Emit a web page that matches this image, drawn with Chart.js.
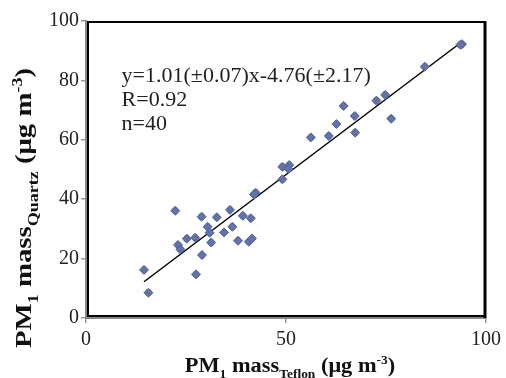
<!DOCTYPE html>
<html>
<head>
<meta charset="utf-8">
<script src="https://cdn.jsdelivr.net/npm/chart.js@4"></script>
<style>
  html, body { margin: 0; padding: 0; background: #fff; }
</style>
</head>
<body>
<canvas id="grafico" width="506" height="378"></canvas>
<script>
// datos
const teflon = [94.0, 84.7, 74.8, 72.6, 64.4, 67.2, 62.6, 76.3, 67.3, 60.7, 56.2, 49.1, 50.8, 50.6, 49.1, 42.4, 42.0, 22.3, 36.0, 28.9,
                32.7, 39.2, 41.2, 30.4, 36.6, 30.9, 34.5, 25.2, 27.3, 23.0, 23.6, 31.3, 38.0, 40.7, 41.5, 29.0, 14.5, 15.6, 27.5, 93.6];
const quartz = [92.2, 84.6, 75.1, 73.2, 71.4, 68.0, 65.3, 67.1, 62.4, 61.3, 60.8, 50.9, 51.5, 50.2, 46.7, 42.2, 41.6, 36.1, 36.4, 34.1,
                33.9, 34.4, 33.6, 30.7, 30.7, 28.7, 28.8, 26.7, 27.0, 24.6, 23.1, 25.4, 26.0, 25.7, 26.8, 21.2, 16.2, 8.5, 14.7, 92.0];
const fitX = [14.5, 93.5];
const fitY = [12.2, 92.5];
const errX = 0.6;   // barra de error aprox. (µg m-3)
const errY = 0.9;
const xTicks = [0, 50, 100];
const yTicks = [0, 20, 40, 60, 80, 100];
const notas = ['y=1.01(\u00b10.07)x-4.76(\u00b12.17)', 'R=0.92', 'n=40'];

const serif = '"Liberation Serif", "Times New Roman", serif';

// dibuja texto con subíndices / superíndices
function drawRich(ctx, parts, size) {
  let total = 0;
  parts.forEach(p => {
    ctx.font = 'bold ' + (p.t ? Math.round(size * 0.62) : size) + 'px ' + serif;
    p.w = ctx.measureText(p.s).width;
    total += p.w;
  });
  let x = -total / 2;
  parts.forEach(p => {
    ctx.font = 'bold ' + (p.t ? Math.round(size * 0.62) : size) + 'px ' + serif;
    let dy = 0;
    if (p.t === 'sub') dy = size * 0.28;
    if (p.t === 'sup') dy = -size * 0.38;
    ctx.fillText(p.s, x, dy);
    x += p.w;
  });
}

const extras = {
  id: 'extras',
  beforeDatasetsDraw(chart) {
    const { ctx, scales: { x, y } } = chart;
    ctx.save();
    ctx.strokeStyle = '#111';
    ctx.lineWidth = 1;
    for (let i = 0; i < teflon.length; i++) {
      const px = x.getPixelForValue(teflon[i]);
      const py = y.getPixelForValue(quartz[i]);
      const x0 = x.getPixelForValue(teflon[i] - errX), x1 = x.getPixelForValue(teflon[i] + errX);
      const y0 = y.getPixelForValue(quartz[i] - errY), y1 = y.getPixelForValue(quartz[i] + errY);
      ctx.beginPath();
      ctx.moveTo(x0, py); ctx.lineTo(x1, py);
      ctx.moveTo(x0, py - 2); ctx.lineTo(x0, py + 2);
      ctx.moveTo(x1, py - 2); ctx.lineTo(x1, py + 2);
      ctx.moveTo(px, y0); ctx.lineTo(px, y1);
      ctx.moveTo(px - 2, y0); ctx.lineTo(px + 2, y0);
      ctx.moveTo(px - 2, y1); ctx.lineTo(px + 2, y1);
      ctx.stroke();
    }
    ctx.restore();
  },
  afterDraw(chart) {
    const { ctx, chartArea: a, scales: { x, y } } = chart;
    ctx.save();
    // marco negro
    ctx.strokeStyle = '#000';
    ctx.lineWidth = 2;
    ctx.strokeRect(a.left + 2, a.top + 1, a.right - a.left - 3, a.bottom - a.top - 3);
    ctx.lineWidth = 3;
    ctx.beginPath();
    ctx.moveTo(a.right - 1, a.top); ctx.lineTo(a.right - 1, a.bottom);
    ctx.stroke();

    // ecuación
    ctx.fillStyle = '#222';
    ctx.font = '22px ' + serif;
    ctx.textBaseline = 'alphabetic';
    const tx = x.getPixelForValue(8.9);
    const ty = y.getPixelForValue(79.6);
    notas.forEach((s, i) => ctx.fillText(s, tx, ty + i * 24.3));

    // títulos de ejes
    ctx.fillStyle = '#111';
    ctx.save();
    ctx.translate(290, 372);
    ctx.scale(1.12, 1);
    drawRich(ctx, [
      { s: 'PM' }, { s: '1', t: 'sub' }, { s: ' mass' }, { s: 'Teflon', t: 'sub' },
      { s: ' (\u03bcg m' }, { s: '-3', t: 'sup' }, { s: ')' }
    ], 20);
    ctx.restore();

    ctx.save();
    ctx.translate(31, 208);
    ctx.rotate(-Math.PI / 2);
    ctx.scale(1.2, 1);
    drawRich(ctx, [
      { s: 'PM' }, { s: '1', t: 'sub' }, { s: ' mass' }, { s: 'Quartz', t: 'sub' },
      { s: ' (\u03bcg m' }, { s: '-3', t: 'sup' }, { s: ')' }
    ], 24);
    ctx.restore();
    ctx.restore();
  }
};

const ctx = document.getElementById('grafico').getContext('2d');
new Chart(ctx, {
  type: 'scatter',
  data: {
    datasets: [{
      label: 'PM1',
      data: teflon.map((v, i) => ({ x: v, y: quartz[i] })),
      pointStyle: 'rectRot',
      pointRadius: 4.5,
      backgroundColor: '#6373a8',
      borderColor: '#55659c',
      borderWidth: 1
    }, {
      type: 'line',
      label: 'ajuste',
      data: fitX.map((v, i) => ({ x: v, y: fitY[i] })),
      borderColor: '#000',
      borderWidth: 1.5,
      pointRadius: 0,
      fill: false
    }]
  },
  options: {
    responsive: false,
    animation: false,
    devicePixelRatio: 1,
    layout: { padding: { left: 0, top: 21, right: 17, bottom: 0 } },
    plugins: { legend: { display: false }, tooltip: { enabled: false } },
    scales: {
      x: {
        type: 'linear', min: 0, max: 100,
        afterBuildTicks: s => { s.ticks = xTicks.map(v => ({ value: v })); },
        afterFit: s => { s.height = 60; },
        grid: { drawOnChartArea: false, drawTicks: true, tickLength: 5, color: '#999', lineWidth: 1.5 },
        border: { color: '#888', width: 2 },
        ticks: { font: { family: serif, size: 20 }, color: '#222', padding: 5, maxRotation: 0 }
      },
      y: {
        type: 'linear', min: 0, max: 100,
        afterBuildTicks: s => { s.ticks = yTicks.map(v => ({ value: v })); },
        afterFit: s => { s.width = 86; },
        grid: { drawOnChartArea: false, drawTicks: true, tickLength: 5, color: '#999', lineWidth: 1.5 },
        border: { color: '#888', width: 2 },
        ticks: { font: { family: serif, size: 20 }, color: '#222', padding: 2 }
      }
    }
  },
  plugins: [extras]
});
</script>
</body>
</html>
